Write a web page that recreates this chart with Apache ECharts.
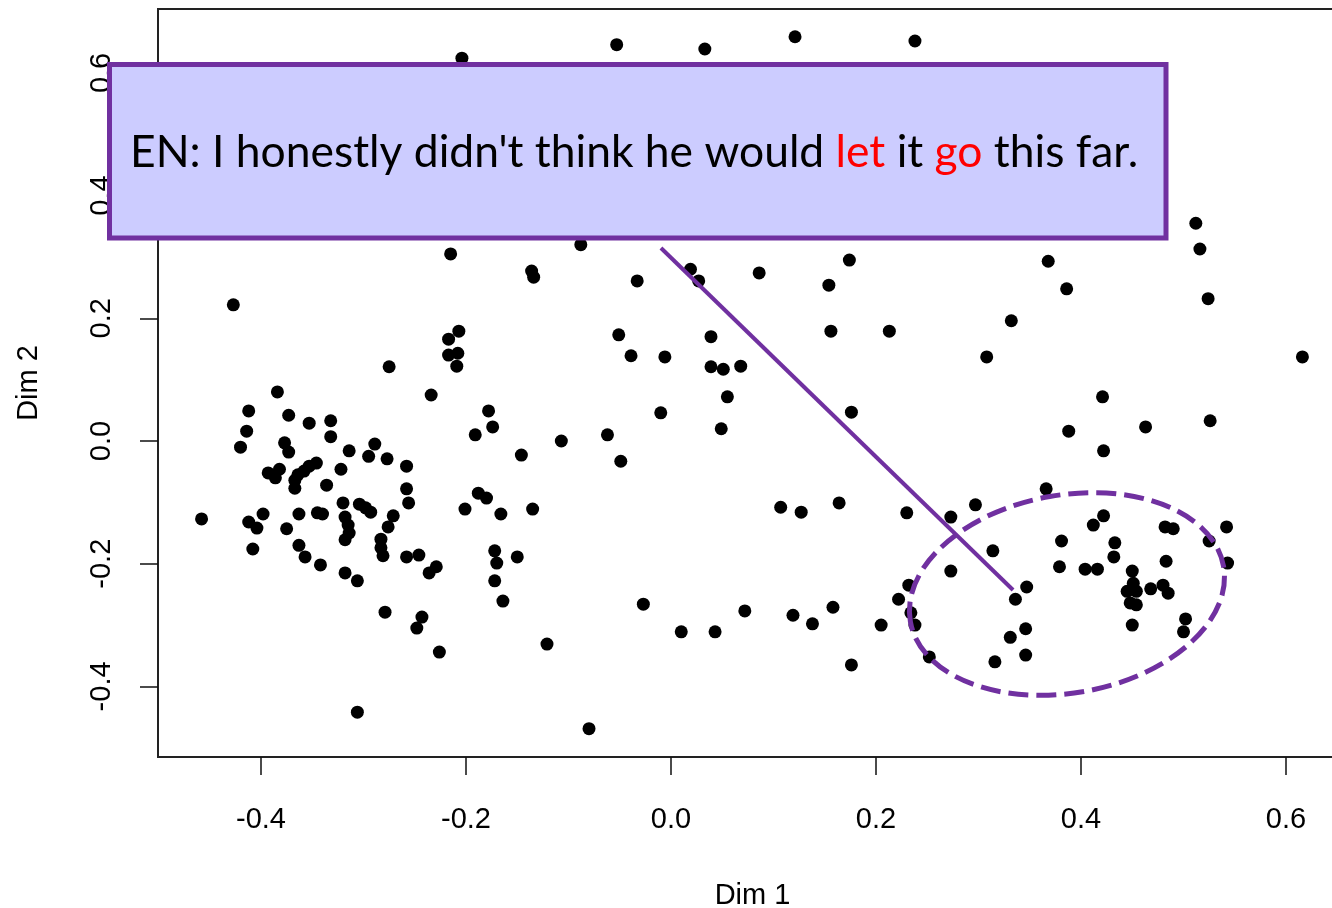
<!DOCTYPE html>
<html><head><meta charset="utf-8">
<script src="https://cdn.jsdelivr.net/npm/echarts@6/dist/echarts.min.js"></script>
<style>html,body{margin:0;padding:0;background:#fff}#c{width:1332px;height:908px}</style>
</head><body><div id="c"></div>
<script>
// ---- data ----
const dim1 = [
 -0.053,0.033,0.121,0.238,-0.204,-0.215,-0.088,0.174,0.512,0.516,
 0.368,0.386,0.332,0.308,0.524,0.616,0.421,0.388,0.463,0.526,
 0.422,0.366,0.297,0.422,0.412,-0.136,-0.134,-0.033,0.019,0.027,
 0.086,0.154,-0.051,0.039,0.156,0.213,-0.039,-0.006,0.039,0.051,
 0.068,0.055,-0.010,0.176,0.049,-0.107,-0.062,-0.049,0.107,0.127,
 0.164,0.230,0.273,-0.121,-0.080,-0.027,0.010,0.043,0.072,0.119,
 0.138,0.158,0.176,0.205,0.273,0.232,0.222,0.234,0.238,0.252,
 0.314,0.347,0.336,0.346,0.331,0.346,0.316,0.381,0.379,0.404,
 0.416,0.433,0.432,0.450,0.451,0.445,0.454,0.448,0.454,0.450,
 0.468,0.480,0.485,0.483,0.482,0.490,0.502,0.500,0.525,0.542,
 0.543,-0.427,-0.207,-0.217,-0.208,-0.217,-0.209,-0.275,-0.234,-0.384,
 -0.412,-0.373,-0.353,-0.332,-0.332,-0.414,-0.420,-0.377,-0.373,-0.314,
 -0.289,-0.295,-0.277,-0.258,-0.178,-0.174,-0.191,-0.146,-0.322,-0.382,
 -0.393,-0.386,-0.346,-0.353,-0.358,-0.364,-0.367,-0.367,-0.336,-0.258,
 -0.188,-0.180,-0.256,-0.320,-0.304,-0.298,-0.293,-0.271,-0.201,-0.166,
 -0.135,-0.345,-0.363,-0.398,-0.458,-0.318,-0.412,-0.404,-0.408,-0.375,
 -0.363,-0.357,-0.340,-0.342,-0.315,-0.314,-0.318,-0.318,-0.306,-0.276,
 -0.283,-0.283,-0.281,-0.258,-0.246,-0.229,-0.236,-0.172,-0.170,-0.150,
 -0.172,-0.164,-0.279,-0.243,-0.248,-0.226,-0.306
];
const dim2 = [
 0.646,0.639,0.659,0.652,0.624,0.305,0.320,0.295,0.355,0.313,
 0.293,0.248,0.196,0.137,0.232,0.137,0.072,0.016,0.023,0.033,
 -0.016,-0.078,-0.104,-0.122,-0.137,0.277,0.267,0.261,0.280,0.261,
 0.274,0.254,0.173,0.170,0.179,0.179,0.139,0.137,0.121,0.117,
 0.122,0.072,0.046,0.047,0.020,0.000,0.010,-0.033,-0.108,-0.116,
 -0.101,-0.117,-0.124,-0.331,-0.469,-0.266,-0.311,-0.311,-0.277,-0.284,
 -0.298,-0.271,-0.365,-0.300,-0.212,-0.235,-0.258,-0.280,-0.300,-0.352,
 -0.179,-0.238,-0.258,-0.306,-0.320,-0.349,-0.360,-0.163,-0.205,-0.209,
 -0.209,-0.166,-0.189,-0.212,-0.232,-0.245,-0.245,-0.264,-0.267,-0.300,
 -0.241,-0.235,-0.248,-0.196,-0.140,-0.143,-0.290,-0.311,-0.163,-0.140,
 -0.199,0.222,0.179,0.166,0.143,0.140,0.122,0.121,0.075,0.080,
 0.049,0.042,0.029,0.033,0.007,0.016,-0.010,-0.003,-0.018,-0.016,
 -0.005,-0.025,-0.029,-0.041,0.049,0.023,0.010,-0.023,-0.046,-0.046,
 -0.052,-0.060,-0.036,-0.041,-0.049,-0.055,-0.064,-0.077,-0.072,-0.078,
 -0.085,-0.093,-0.101,-0.101,-0.103,-0.109,-0.116,-0.122,-0.111,-0.119,
 -0.111,-0.117,-0.119,-0.119,-0.127,-0.124,-0.132,-0.142,-0.176,-0.143,
 -0.170,-0.189,-0.119,-0.202,-0.137,-0.150,-0.161,-0.215,-0.228,-0.140,
 -0.160,-0.174,-0.187,-0.189,-0.186,-0.205,-0.215,-0.179,-0.199,-0.189,
 -0.228,-0.261,-0.279,-0.287,-0.305,-0.344,-0.442
];
const xTicks = [-0.4, -0.2, 0.0, 0.2, 0.4, 0.6];
const yTicks = [-0.4, -0.2, 0.0, 0.2, 0.4, 0.6];
const xRange = [-0.5005, 0.6595];
const yRange = [-0.5151, 0.7042];
const xName = 'Dim 1';
const yName = 'Dim 2';
const calloutParts = [
  ['k', "EN: I honestly didn't think he would "],
  ['r', 'let'],
  ['k', ' it '],
  ['r', 'go'],
  ['k', ' this far.']
];
const connectorEnds = [[-0.0098, 0.3146], [0.3337, -0.2429]];
const ellipseCenter = [0.3863, -0.2494];

// ---- chart ----
const chart = echarts.init(document.getElementById('c'), null, {renderer: 'canvas'});
const axisFont = "'Liberation Sans', Arial, sans-serif";
const purple = '#7030A0';
chart.setOption({
  animation: false,
  backgroundColor: '#ffffff',
  grid: {left: 158, top: 9, width: 1189, height: 748, show: true,
         outerBoundsMode: 'none', containLabel: false,
         borderColor: '#222', borderWidth: 2, backgroundColor: 'transparent'},
  xAxis: {
    type: 'value', min: xRange[0], max: xRange[1],
    splitLine: {show: false}, axisLine: {show: false, onZero: false},
    axisTick: {show: true, customValues: xTicks, length: 18, lineStyle: {color: '#111', width: 1.5}},
    axisLabel: {customValues: xTicks, formatter: v => v.toFixed(1), fontSize: 29,
                color: '#000', fontFamily: axisFont, margin: 48},
    name: xName, nameLocation: 'middle', nameGap: 124,
    nameTextStyle: {fontSize: 29, color: '#000', fontFamily: axisFont}
  },
  yAxis: {
    type: 'value', min: yRange[0], max: yRange[1],
    splitLine: {show: false}, axisLine: {show: false, onZero: false},
    axisTick: {show: true, customValues: yTicks, length: 18, lineStyle: {color: '#111', width: 1.5}},
    axisLabel: {customValues: yTicks, formatter: v => v.toFixed(1), fontSize: 29, rotate: 90,
                color: '#000', fontFamily: axisFont, margin: 42},
    name: yName, nameLocation: 'middle', nameGap: 115,
    nameTextStyle: {fontSize: 29, color: '#000', fontFamily: axisFont}
  },
  series: [{
    type: 'scatter', symbol: 'circle', symbolSize: 13, silent: true,
    itemStyle: {color: '#000', opacity: 1},
    data: dim1.map((x, i) => [x, dim2[i]])
  }]
});

const a = chart.convertToPixel({gridIndex: 0}, connectorEnds[0]);
const b = chart.convertToPixel({gridIndex: 0}, connectorEnds[1]);
const c = chart.convertToPixel({gridIndex: 0}, ellipseCenter);
const richText = calloutParts.map(p => '{' + p[0] + '|' + p[1] + '}').join('');
const calloutFont = "Lato, 'Open Sans', sans-serif";
chart.setOption({
  graphic: [
    {type: 'line', z: 100, shape: {x1: a[0], y1: a[1], x2: b[0], y2: b[1]},
     style: {stroke: purple, lineWidth: 4}},
    {type: 'ellipse', z: 100, x: c[0], y: c[1], rotation: 10 * Math.PI / 180,
     shape: {cx: 0, cy: 0, rx: 159, ry: 99},
     style: {fill: null, stroke: purple, lineWidth: 5, lineDash: [20, 8]}},
    {type: 'rect', z: 110, shape: {x: 109.5, y: 64.5, width: 1056.5, height: 173.5},
     style: {fill: '#CCCCFF', stroke: purple, lineWidth: 5}},
    {type: 'text', z: 120, x: 130, y: 153,
     style: {text: richText, verticalAlign: 'middle', align: 'left',
       rich: {
         k: {fill: '#000', fontSize: 44.4, fontFamily: calloutFont},
         r: {fill: '#FF0000', fontSize: 44.4, fontFamily: calloutFont}
       }}}
  ]
});
</script></body></html>
